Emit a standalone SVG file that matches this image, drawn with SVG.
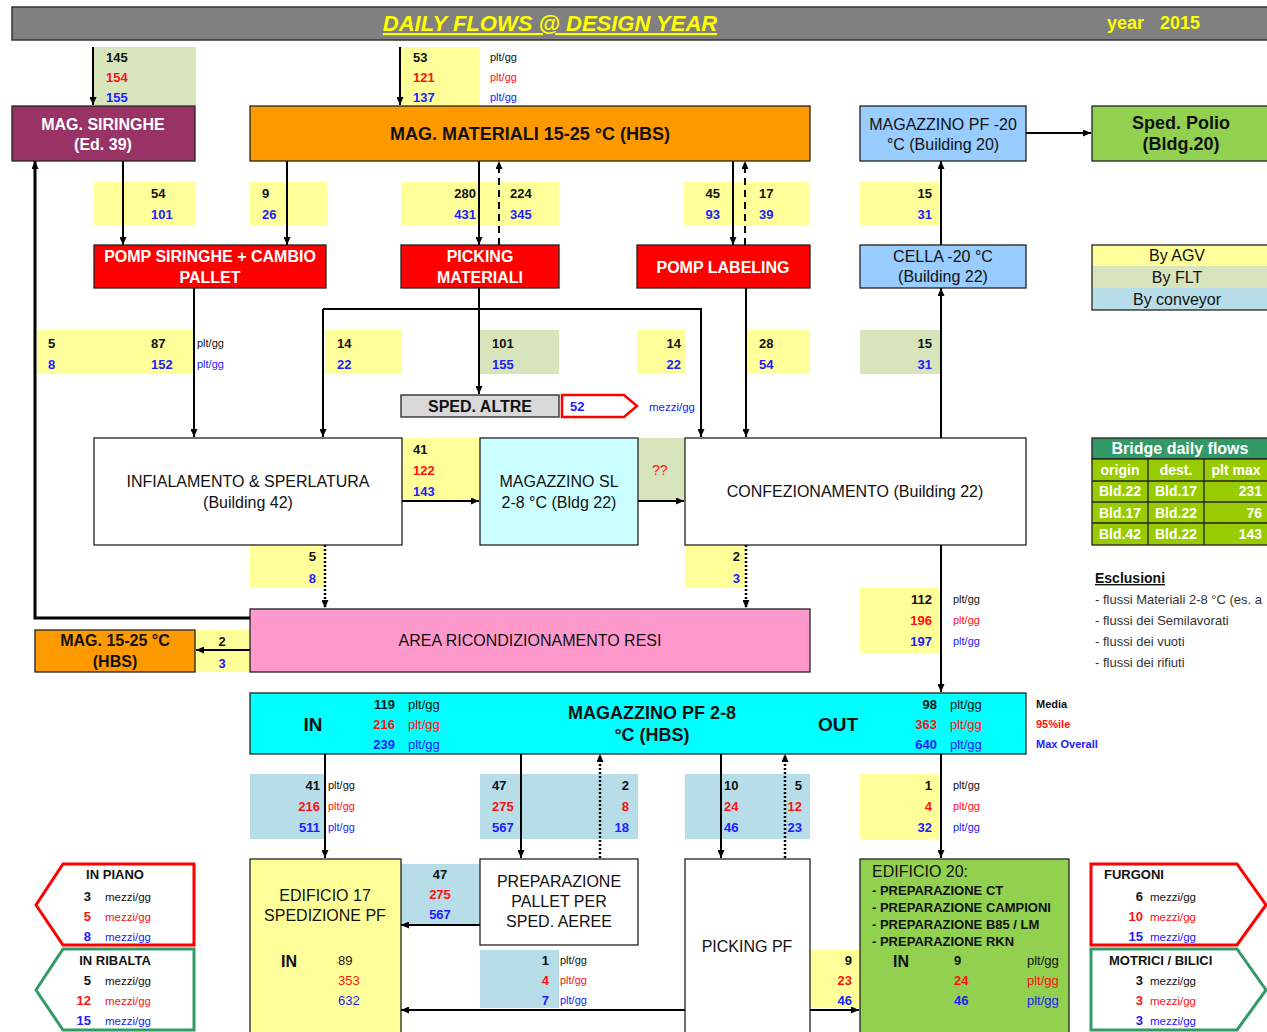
<svg xmlns="http://www.w3.org/2000/svg" width="1267" height="1032" viewBox="0 0 1267 1032">
<defs>
<marker id="a" viewBox="0 0 8 7" refX="8" refY="3.5" markerWidth="8" markerHeight="7" markerUnits="userSpaceOnUse" orient="auto"><path d="M0,0 L8,3.5 L0,7 z" fill="#000"/></marker>
<style>
text{font-family:"Liberation Sans",Arial,sans-serif}
.v{font-size:13px;font-weight:bold}
.s{font-size:11px}
.s13{font-size:13px}
.m{font-size:11.5px}
.k{fill:#111}
.r{fill:#FF1010}
.u{fill:#2020FF}
.w{fill:#fff}
.c{text-anchor:middle}
.e{text-anchor:end}
.t16{font-size:16px}
.b16{font-size:16px;font-weight:bold}
.b13{font-size:13px;font-weight:bold}
.b14{font-size:14px;font-weight:bold}
.nb{stroke:#222;stroke-width:1.3}
.ly{fill:#FFFF99}
.lg{fill:#D8E4BC}
.lb{fill:#B7DEE8}
.cn path{fill:none;stroke:#000;stroke-width:2;marker-end:url(#a)}
.cn .d{stroke-dasharray:7 5}
.cn .o{stroke-dasharray:2 2;stroke-width:2.5}
</style>
</defs>
<rect width="1267" height="1032" fill="#fff"/>

<!-- title -->
<g id="title">
<rect x="12" y="7" width="1262" height="33" fill="#808080" stroke="#333" stroke-width="1.5"/>
<text x="550" y="31" class="c" style="font-size:22px;font-weight:bold;font-style:italic;text-decoration:underline" fill="#FFFF00">DAILY FLOWS @ DESIGN YEAR</text>
<text x="1107" y="29" style="font-size:18px;font-weight:bold" fill="#FFFF00">year</text>
<text x="1160" y="29" style="font-size:18px;font-weight:bold" fill="#FFFF00">2015</text>
</g>

<!-- flow label backgrounds -->
<g id="labels">
<rect x="94" y="47" width="102" height="58" class="lg"/>
<rect x="401" y="47" width="79" height="58" class="ly"/>
<rect x="94" y="182" width="102" height="43" class="ly"/>
<rect x="250" y="182" width="77" height="43" class="ly"/>
<rect x="401" y="182" width="158" height="43" class="ly"/>
<rect x="684" y="182" width="126" height="43" class="ly"/>
<rect x="860" y="182" width="81" height="43" class="ly"/>
<rect x="37" y="330" width="157" height="44" class="ly"/>
<rect x="325" y="330" width="77" height="44" class="ly"/>
<rect x="480" y="330" width="79" height="44" class="lg"/>
<rect x="637" y="330" width="48" height="44" class="ly"/>
<rect x="747" y="330" width="63" height="44" class="ly"/>
<rect x="860" y="330" width="81" height="44" class="lg"/>
<rect x="402" y="438" width="78" height="63" class="ly"/>
<rect x="638" y="438" width="47" height="63" class="lg"/>
<rect x="250" y="545" width="75" height="43" class="ly"/>
<rect x="685" y="545" width="61" height="43" class="ly"/>
<rect x="195" y="630" width="55" height="42" class="ly"/>
<rect x="860" y="588" width="81" height="65" class="ly"/>
<rect x="250" y="774" width="75" height="65" class="lb"/>
<rect x="480" y="774" width="158" height="65" class="lb"/>
<rect x="685" y="774" width="125" height="65" class="lb"/>
<rect x="860" y="774" width="81" height="65" class="ly"/>
<rect x="401" y="864" width="79" height="61" class="lb"/>
<rect x="480" y="950" width="79" height="58" class="lb"/>
<rect x="810" y="950" width="49" height="58" class="ly"/>
</g>

<!-- nodes -->
<g id="mag-siringhe">
<rect x="12" y="106" width="183" height="55" fill="#993366" class="nb"/>
<text x="103" y="130" class="c b16 w">MAG. SIRINGHE</text>
<text x="103" y="150" class="c b16 w">(Ed. 39)</text>
</g>
<g id="mag-materiali">
<rect x="250" y="106" width="560" height="55" fill="#FF9900" class="nb"/>
<text x="530" y="140" class="c k" style="font-size:18px;font-weight:bold">MAG. MATERIALI 15-25 °C (HBS)</text>
</g>
<g id="mag-pf-20">
<rect x="860" y="106" width="166" height="55" fill="#99CCFF" class="nb"/>
<text x="943" y="130" class="c t16 k">MAGAZZINO PF -20</text>
<text x="943" y="150" class="c t16 k">°C (Building 20)</text>
</g>
<g id="sped-polio">
<rect x="1092" y="106" width="180" height="55" fill="#92D050" class="nb"/>
<text x="1181" y="129" class="c k" style="font-size:18px;font-weight:bold">Sped. Polio</text>
<text x="1181" y="150" class="c k" style="font-size:18px;font-weight:bold">(Bldg.20)</text>
</g>
<g id="pomp-siringhe">
<rect x="94" y="245" width="232" height="43" fill="#FF0000" class="nb"/>
<text x="210" y="262" class="c b16 w">POMP SIRINGHE + CAMBIO</text>
<text x="210" y="283" class="c b16 w">PALLET</text>
</g>
<g id="picking-materiali">
<rect x="401" y="245" width="158" height="43" fill="#FF0000" class="nb"/>
<text x="480" y="262" class="c b16 w">PICKING</text>
<text x="480" y="283" class="c b16 w">MATERIALI</text>
</g>
<g id="pomp-labeling">
<rect x="637" y="245" width="173" height="43" fill="#FF0000" class="nb"/>
<text x="723" y="273" class="c b16 w">POMP LABELING</text>
</g>
<g id="cella-20">
<rect x="860" y="245" width="166" height="43" fill="#99CCFF" class="nb"/>
<text x="943" y="262" class="c t16 k">CELLA -20 °C</text>
<text x="943" y="282" class="c t16 k">(Building 22)</text>
</g>
<g id="legend">
<rect x="1092" y="245" width="180" height="21" fill="#FFFF99"/>
<rect x="1092" y="266" width="180" height="22" fill="#D8E4BC"/>
<rect x="1092" y="288" width="180" height="22" fill="#B7DEE8"/>
<rect x="1092" y="245" width="180" height="65" fill="none" class="nb"/>
<text x="1177" y="261" class="c t16 k">By AGV</text>
<text x="1177" y="283" class="c t16 k">By FLT</text>
<text x="1177" y="305" class="c t16 k">By conveyor</text>
</g>
<g id="sped-altre">
<rect x="401" y="395" width="158" height="22" fill="#D9D9D9" class="nb"/>
<text x="480" y="412" class="c b16 k">SPED. ALTRE</text>
<polygon points="562,395 624,395 637,406 624,417 562,417" fill="#fff" stroke="#FF0000" stroke-width="2.5"/>
<text x="570" y="411" class="v u">52</text>
<text x="649" y="411" class="m u">mezzi/gg</text>
</g>
<g id="infialamento">
<rect x="94" y="438" width="308" height="107" fill="#fff" class="nb"/>
<text x="248" y="487" class="c t16 k">INFIALAMENTO &amp; SPERLATURA</text>
<text x="248" y="508" class="c t16 k">(Building 42)</text>
</g>
<g id="magazzino-sl">
<rect x="480" y="438" width="158" height="107" fill="#CCFFFF" class="nb"/>
<text x="559" y="487" class="c t16 k">MAGAZZINO SL</text>
<text x="559" y="508" class="c t16 k">2-8 °C (Bldg 22)</text>
</g>
<g id="confezionamento">
<rect x="685" y="438" width="341" height="107" fill="#fff" class="nb"/>
<text x="855" y="497" class="c t16 k">CONFEZIONAMENTO (Building 22)</text>
</g>
<g id="bridge-table">
<rect x="1092" y="438" width="180" height="21" fill="#339966" class="nb"/>
<rect x="1092" y="459" width="180" height="86" fill="#99CC00" class="nb"/>
<path d="M1092,481 H1272 M1092,502 H1272 M1092,523 H1272 M1148,459 V545 M1204,459 V545" stroke="#222" stroke-width="1.3" fill="none"/>
<text x="1180" y="454" class="c b16 w">Bridge daily flows</text>
<text x="1120" y="475" class="c b14 w">origin</text>
<text x="1176" y="475" class="c b14 w">dest.</text>
<text x="1236" y="475" class="c b14 w">plt max</text>
<text x="1120" y="496" class="c b14 w">Bld.22</text>
<text x="1176" y="496" class="c b14 w">Bld.17</text>
<text x="1262" y="496" class="e b14 w">231</text>
<text x="1120" y="518" class="c b14 w">Bld.17</text>
<text x="1176" y="518" class="c b14 w">Bld.22</text>
<text x="1262" y="518" class="e b14 w">76</text>
<text x="1120" y="539" class="c b14 w">Bld.42</text>
<text x="1176" y="539" class="c b14 w">Bld.22</text>
<text x="1262" y="539" class="e b14 w">143</text>
</g>
<g id="esclusioni">
<text x="1095" y="583" class="b14 k" style="text-decoration:underline">Esclusioni</text>
<text x="1095" y="604" class="s13" fill="#333">- flussi Materiali 2-8 °C (es. a</text>
<text x="1095" y="625" class="s13" fill="#333">- flussi dei Semilavorati</text>
<text x="1095" y="646" class="s13" fill="#333">- flussi dei vuoti</text>
<text x="1095" y="667" class="s13" fill="#333">- flussi dei rifiuti</text>
</g>
<g id="area-resi">
<rect x="250" y="609" width="560" height="63" fill="#FF99CC" class="nb"/>
<text x="530" y="646" class="c t16 k">AREA RICONDIZIONAMENTO RESI</text>
</g>
<g id="mag-15-25">
<rect x="35" y="630" width="160" height="42" fill="#FF9900" class="nb"/>
<text x="115" y="646" class="c b16 k">MAG. 15-25 °C</text>
<text x="115" y="667" class="c b16 k">(HBS)</text>
</g>
<g id="magazzino-pf-2-8">
<rect x="250" y="693" width="776" height="61" fill="#00FFFF" class="nb"/>
<text x="313" y="731" class="c k" style="font-size:19px;font-weight:bold">IN</text>
<text x="395" y="709" class="e v k">119</text>
<text x="395" y="729" class="e v r">216</text>
<text x="395" y="749" class="e v u">239</text>
<text x="408" y="709" class="s13 k">plt/gg</text>
<text x="408" y="729" class="s13 r">plt/gg</text>
<text x="408" y="749" class="s13 u">plt/gg</text>
<text x="652" y="719" class="c k" style="font-size:18px;font-weight:bold">MAGAZZINO PF 2-8</text>
<text x="652" y="741" class="c k" style="font-size:18px;font-weight:bold">°C (HBS)</text>
<text x="838" y="731" class="c k" style="font-size:19px;font-weight:bold">OUT</text>
<text x="937" y="709" class="e v k">98</text>
<text x="937" y="729" class="e v r">363</text>
<text x="937" y="749" class="e v u">640</text>
<text x="950" y="709" class="s13 k">plt/gg</text>
<text x="950" y="729" class="s13 r">plt/gg</text>
<text x="950" y="749" class="s13 u">plt/gg</text>
</g>
<g id="stat-legend">
<text x="1036" y="708" class="k" style="font-size:11px;font-weight:bold">Media</text>
<text x="1036" y="728" class="r" style="font-size:11px;font-weight:bold">95%ile</text>
<text x="1036" y="748" class="u" style="font-size:11px;font-weight:bold">Max Overall</text>
</g>
<g id="in-piano">
<polygon points="63,864 194,864 194,945 63,945 36,905" fill="#fff" stroke="#FF0000" stroke-width="3"/>
<text x="115" y="879" class="c b13 k">IN PIANO</text>
<text x="91" y="901" class="e v k">3</text><text x="105" y="901" class="m k">mezzi/gg</text>
<text x="91" y="921" class="e v r">5</text><text x="105" y="921" class="m r">mezzi/gg</text>
<text x="91" y="941" class="e v u">8</text><text x="105" y="941" class="m u">mezzi/gg</text>
</g>
<g id="in-ribalta">
<polygon points="63,949 194,949 194,1030 63,1030 36,990" fill="#fff" stroke="#339966" stroke-width="3"/>
<text x="115" y="965" class="c b13 k">IN RIBALTA</text>
<text x="91" y="985" class="e v k">5</text><text x="105" y="985" class="m k">mezzi/gg</text>
<text x="91" y="1005" class="e v r">12</text><text x="105" y="1005" class="m r">mezzi/gg</text>
<text x="91" y="1025" class="e v u">15</text><text x="105" y="1025" class="m u">mezzi/gg</text>
</g>
<g id="edificio-17">
<rect x="250" y="859" width="151" height="180" fill="#FFFF99" class="nb"/>
<text x="325" y="901" class="c t16 k">EDIFICIO 17</text>
<text x="325" y="921" class="c t16 k">SPEDIZIONE PF</text>
<text x="281" y="967" class="b16 k">IN</text>
<text x="338" y="965" class="s13 k">89</text>
<text x="338" y="985" class="s13 r">353</text>
<text x="338" y="1005" class="s13 u">632</text>
</g>
<g id="preparazione">
<rect x="480" y="859" width="158" height="86" fill="#fff" class="nb"/>
<text x="559" y="887" class="c t16 k">PREPARAZIONE</text>
<text x="559" y="907" class="c t16 k">PALLET PER</text>
<text x="559" y="927" class="c t16 k">SPED. AEREE</text>
</g>
<g id="picking-pf">
<rect x="685" y="859" width="125" height="180" fill="#fff" class="nb"/>
<text x="747" y="952" class="c t16 k">PICKING PF</text>
</g>
<g id="edificio-20">
<rect x="860" y="859" width="209" height="180" fill="#92D050" class="nb"/>
<text x="872" y="877" class="t16 k">EDIFICIO 20:</text>
<text x="872" y="895" class="b13 k">- PREPARAZIONE CT</text>
<text x="872" y="912" class="b13 k">- PREPARAZIONE CAMPIONI</text>
<text x="872" y="929" class="b13 k">- PREPARAZIONE B85 / LM</text>
<text x="872" y="946" class="b13 k">- PREPARAZIONE RKN</text>
<text x="893" y="967" class="b16 k">IN</text>
<text x="954" y="965" class="v k">9</text>
<text x="954" y="985" class="v r">24</text>
<text x="954" y="1005" class="v u">46</text>
<text x="1027" y="965" class="s13 k">plt/gg</text>
<text x="1027" y="985" class="s13 r">plt/gg</text>
<text x="1027" y="1005" class="s13 u">plt/gg</text>
</g>
<g id="furgoni">
<polygon points="1091,864 1237,864 1266,905 1237,945 1091,945" fill="#fff" stroke="#FF0000" stroke-width="3"/>
<text x="1104" y="879" class="b13 k">FURGONI</text>
<text x="1143" y="901" class="e v k">6</text><text x="1150" y="901" class="m k">mezzi/gg</text>
<text x="1143" y="921" class="e v r">10</text><text x="1150" y="921" class="m r">mezzi/gg</text>
<text x="1143" y="941" class="e v u">15</text><text x="1150" y="941" class="m u">mezzi/gg</text>
</g>
<g id="motrici">
<polygon points="1091,949 1237,949 1266,990 1237,1030 1091,1030" fill="#fff" stroke="#339966" stroke-width="3"/>
<text x="1109" y="965" class="b13 k">MOTRICI / BILICI</text>
<text x="1143" y="985" class="e v k">3</text><text x="1150" y="985" class="m k">mezzi/gg</text>
<text x="1143" y="1005" class="e v r">3</text><text x="1150" y="1005" class="m r">mezzi/gg</text>
<text x="1143" y="1025" class="e v u">3</text><text x="1150" y="1025" class="m u">mezzi/gg</text>
</g>

<!-- connectors -->
<g id="connectors" class="cn">
<path d="M93,47 V105"/>
<path d="M400,47 V105"/>
<path d="M123,161 V245"/>
<path d="M287,161 V245"/>
<path d="M479,161 V245"/>
<path class="d" d="M499,245 V161"/>
<path d="M733,161 V245"/>
<path class="d" d="M745,245 V161"/>
<path d="M941,245 V161"/>
<path d="M1026,133 H1091"/>
<path d="M194,288 V437"/>
<path d="M479,288 V394"/>
<path d="M323,309 V437"/>
<path d="M323,309 H701 V437"/>
<path d="M746,288 V437"/>
<path d="M941,438 V288"/>
<path d="M402,501 H479"/>
<path d="M638,501 H684"/>
<path class="o" d="M325,545 V608"/>
<path class="o" d="M746,545 V608"/>
<path d="M250,618 H35 V161" style="stroke-width:3"/>
<path d="M250,650 H196"/>
<path d="M941,545 V692"/>
<path d="M325,754 V858"/>
<path d="M521,754 V858"/>
<path class="o" d="M600,858 V754"/>
<path d="M721,754 V858"/>
<path class="o" d="M785,858 V754"/>
<path d="M941,754 V858"/>
<path d="M480,925 H401"/>
<path d="M685,1010 H401"/>
<path d="M810,1010 H859"/>
</g>

<!-- flow values -->
<g id="values">
<text x="106" y="62" class="v k">145</text>
<text x="106" y="82" class="v r">154</text>
<text x="106" y="102" class="v u">155</text>
<text x="413" y="62" class="v k">53</text>
<text x="413" y="82" class="v r">121</text>
<text x="413" y="102" class="v u">137</text>
<text x="490" y="61" class="s k">plt/gg</text>
<text x="490" y="81" class="s r">plt/gg</text>
<text x="490" y="101" class="s u">plt/gg</text>

<text x="151" y="198" class="v k">54</text>
<text x="151" y="219" class="v u">101</text>
<text x="262" y="198" class="v k">9</text>
<text x="262" y="219" class="v u">26</text>
<text x="476" y="198" class="e v k">280</text>
<text x="476" y="219" class="e v u">431</text>
<text x="510" y="198" class="v k">224</text>
<text x="510" y="219" class="v u">345</text>
<text x="720" y="198" class="e v k">45</text>
<text x="720" y="219" class="e v u">93</text>
<text x="759" y="198" class="v k">17</text>
<text x="759" y="219" class="v u">39</text>
<text x="932" y="198" class="e v k">15</text>
<text x="932" y="219" class="e v u">31</text>

<text x="48" y="348" class="v k">5</text>
<text x="48" y="369" class="v u">8</text>
<text x="151" y="348" class="v k">87</text>
<text x="151" y="369" class="v u">152</text>
<text x="197" y="347" class="s k">plt/gg</text>
<text x="197" y="368" class="s u">plt/gg</text>
<text x="337" y="348" class="v k">14</text>
<text x="337" y="369" class="v u">22</text>
<text x="492" y="348" class="v k">101</text>
<text x="492" y="369" class="v u">155</text>
<text x="681" y="348" class="e v k">14</text>
<text x="681" y="369" class="e v u">22</text>
<text x="759" y="348" class="v k">28</text>
<text x="759" y="369" class="v u">54</text>
<text x="932" y="348" class="e v k">15</text>
<text x="932" y="369" class="e v u">31</text>

<text x="413" y="454" class="v k">41</text>
<text x="413" y="475" class="v r">122</text>
<text x="413" y="496" class="v u">143</text>
<text x="652" y="475" class="r" style="font-size:14px">??</text>

<text x="316" y="561" class="e v k">5</text>
<text x="316" y="583" class="e v u">8</text>
<text x="740" y="561" class="e v k">2</text>
<text x="740" y="583" class="e v u">3</text>
<text x="222" y="646" class="c v k">2</text>
<text x="222" y="668" class="c v u">3</text>

<text x="932" y="604" class="e v k">112</text>
<text x="932" y="625" class="e v r">196</text>
<text x="932" y="646" class="e v u">197</text>
<text x="953" y="603" class="s k">plt/gg</text>
<text x="953" y="624" class="s r">plt/gg</text>
<text x="953" y="645" class="s u">plt/gg</text>

<text x="320" y="790" class="e v k">41</text>
<text x="320" y="811" class="e v r">216</text>
<text x="320" y="832" class="e v u">511</text>
<text x="328" y="789" class="s k">plt/gg</text>
<text x="328" y="810" class="s r">plt/gg</text>
<text x="328" y="831" class="s u">plt/gg</text>
<text x="492" y="790" class="v k">47</text>
<text x="492" y="811" class="v r">275</text>
<text x="492" y="832" class="v u">567</text>
<text x="629" y="790" class="e v k">2</text>
<text x="629" y="811" class="e v r">8</text>
<text x="629" y="832" class="e v u">18</text>
<text x="724" y="790" class="v k">10</text>
<text x="724" y="811" class="v r">24</text>
<text x="724" y="832" class="v u">46</text>
<text x="802" y="790" class="e v k">5</text>
<text x="802" y="811" class="e v r">12</text>
<text x="802" y="832" class="e v u">23</text>
<text x="932" y="790" class="e v k">1</text>
<text x="932" y="811" class="e v r">4</text>
<text x="932" y="832" class="e v u">32</text>
<text x="953" y="789" class="s k">plt/gg</text>
<text x="953" y="810" class="s r">plt/gg</text>
<text x="953" y="831" class="s u">plt/gg</text>

<text x="440" y="879" class="c v k">47</text>
<text x="440" y="899" class="c v r">275</text>
<text x="440" y="919" class="c v u">567</text>
<text x="549" y="965" class="e v k">1</text>
<text x="549" y="985" class="e v r">4</text>
<text x="549" y="1005" class="e v u">7</text>
<text x="560" y="964" class="s k">plt/gg</text>
<text x="560" y="984" class="s r">plt/gg</text>
<text x="560" y="1004" class="s u">plt/gg</text>
<text x="852" y="965" class="e v k">9</text>
<text x="852" y="985" class="e v r">23</text>
<text x="852" y="1005" class="e v u">46</text>
</g>
</svg>
